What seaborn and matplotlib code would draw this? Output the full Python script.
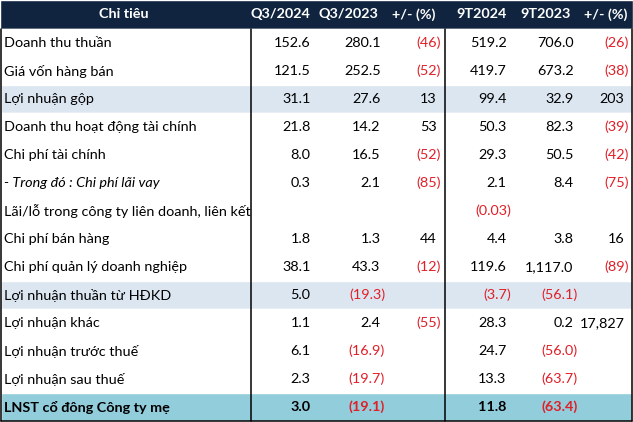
import matplotlib.pyplot as plt
import seaborn as sns

labels = ["Doanh thu thuần", "Giá vốn hàng bán", "Lợi nhuận gộp",
          "Doanh thu hoạt động tài chính", "Chi phí tài chính",
          "- Trong đó : Chi phí lãi vay",
          "Lãi/lỗ trong công ty liên doanh, liên kết", "Chi phí bán hàng",
          "Chi phí quản lý doanh nghiệp", "Lợi nhuận thuần từ HĐKD",
          "Lợi nhuận khác", "Lợi nhuận trước thuế", "Lợi nhuận sau thuế",
          "LNST cổ đông Công ty mẹ"]
headers = ["Chỉ tiêu", "Q3/2024", "Q3/2023", "+/- (%)", "9T2024", "9T2023", "+/- (%)"]

q3_2024 = ["152.6", "121.5", "31.1", "21.8", "8.0", "0.3", "", "1.8", "38.1", "5.0", "1.1", "6.1", "2.3", "3.0"]
q3_2023 = ["280.1", "252.5", "27.6", "14.2", "16.5", "2.1", "", "1.3", "43.3", "(19.3)", "2.4", "(16.9)", "(19.7)", "(19.1)"]
q3_chg = ["(46)", "(52)", "13", "53", "(52)", "(85)", "", "44", "(12)", "", "(55)", "", "", ""]
ytd_2024 = ["519.2", "419.7", "99.4", "50.3", "29.3", "2.1", "(0.03)", "4.4", "119.6", "(3.7)", "28.3", "24.7", "13.3", "11.8"]
ytd_2023 = ["706.0", "673.2", "32.9", "82.3", "50.5", "8.4", "", "3.8", "1,117.0", "(56.1)", "0.2", "(56.0)", "(63.7)", "(63.4)"]
ytd_chg = ["(26)", "(38)", "203", "(39)", "(42)", "(75)", "", "16", "(89)", "", "17,827", "", "", ""]

# row style: 0 plain, 1 light band, 2 total
row_kind = [0, 0, 1, 0, 0, 0, 0, 0, 0, 1, 0, 0, 0, 2]

W, H = 633, 422
HEAD = 29
ROW = 28
navy = "#10243F"
band = "#DCE6F1"
total = "#92CDDC"
red = "#E01F27"

sns.set_theme(style="white")
plt.rcParams['font.family'] = ['Lato', 'DejaVu Sans']

fig = plt.figure(figsize=(6.33, 4.22), dpi=100)
ax = fig.add_axes([0, 0, 1, 1])
ax.set_xlim(0, W)
ax.set_ylim(H, 0)
ax.axis("off")

# backgrounds
ax.barh([HEAD / 2], [W], height=HEAD, left=0, color=navy)
centers = [HEAD + ROW * i + ROW / 2 for i in range(len(labels))]
fills = [["white", band, total][k] for k in row_kind]
ax.barh(centers, [631] * len(labels), height=ROW, left=0.5, color=fills)

# grid lines
for xv in [250.5, 444.5]:
    ax.plot([xv, xv], [HEAD, 420.5], color="black", lw=1.1)
ax.plot([0.7, 0.7], [HEAD, 420.5], color="black", lw=1.1)
ax.plot([631.5, 631.5], [HEAD, 420.5], color="black", lw=1.1)
ax.plot([0.7, 631.5], [420.5, 420.5], color="black", lw=1.1)

fs = 10.4

# header
ax.text(124, HEAD / 2, headers[0], ha="center", va="center", color="white",
        fontsize=fs, fontweight="bold")
head_right = [310, 378, 435, 507, 571, 627]
for h, xr in zip(headers[1:], head_right):
    ax.text(xr, HEAD / 2, h, ha="right", va="center", color="white",
            fontsize=fs, fontweight="bold")

cols = [q3_2024, q3_2023, q3_chg, ytd_2024, ytd_2023, ytd_chg]
digit_right = [310.5, 380.5, 436.5, 506.5, 573.5, 624.5]
for i, (lab, yc) in enumerate(zip(labels, centers)):
    weight = "bold" if row_kind[i] == 2 else "normal"
    style = "italic" if lab.startswith("- ") else "normal"
    ax.text(4, yc, lab, ha="left", va="center", color="black",
            fontsize=fs, fontweight=weight, fontstyle=style)
    for col, xr in zip(cols, digit_right):
        v = col[i]
        if not v:
            continue
        neg = v.startswith("(")
        ax.text(xr + (4.5 if neg else 0), yc, v, ha="right", va="center",
                color=red if neg else "black", fontsize=fs, fontweight=weight)

plt.savefig("out.png", dpi=100)
